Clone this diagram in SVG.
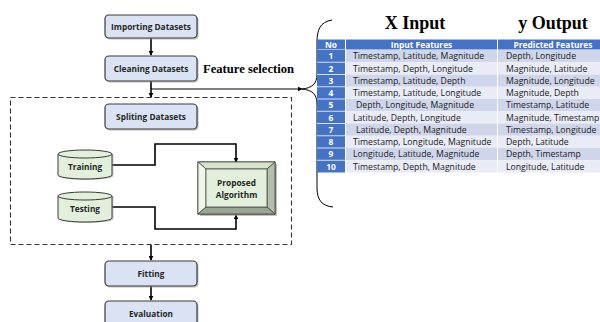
<svg xmlns="http://www.w3.org/2000/svg" width="600" height="322" viewBox="0 0 600 322">
<defs>
<marker id="ah" viewBox="0 0 8 8" refX="7" refY="4" markerWidth="5" markerHeight="5" orient="auto" markerUnits="userSpaceOnUse">
<path d="M0,0 L8,4 L0,8 z" fill="#000"/>
</marker>
<style>
.box{fill:#dae3f3;stroke:#3a3a3a;stroke-width:1.2}
.shadow{fill:#9a9a9a;opacity:0.6}
.lbl{font-family:"Open Sans","Liberation Sans",sans-serif;font-weight:bold;font-size:8.3px;fill:#262626;text-anchor:middle}
.cyl{fill:#e2efda;stroke:#3a3a3a;stroke-width:1}
.conn{fill:none;stroke:#000;stroke-width:1.6}
.thin{fill:none;stroke:#000;stroke-width:1}
.title{font-family:"Liberation Serif","Times New Roman",serif;font-weight:bold;fill:#000}
.hd{font-family:"Open Sans","Liberation Sans",sans-serif;font-weight:bold;font-size:8.4px;fill:#fff;text-anchor:middle}
.cell{font-family:"Open Sans","Liberation Sans",sans-serif;font-size:8.7px;fill:#1a1a1a}
.num{font-family:"Open Sans","Liberation Sans",sans-serif;font-weight:bold;font-size:8.4px;fill:#fff;text-anchor:middle}
.odd{fill:#cfd5ea}
.even{fill:#e9ebf5}
.blue{fill:#4472c4}
</style>
</defs>
<rect width="600" height="322" fill="#fff"/>

<!-- dashed container -->
<rect id="split-group" x="10.5" y="97.5" width="281" height="147" fill="none" stroke="#333" stroke-width="1.1" stroke-dasharray="5,3"/>

<g id="connectors">
<line class="conn" x1="151" y1="38" x2="151" y2="55" marker-end="url(#ah)"/>
<line class="conn" x1="151" y1="81" x2="151" y2="97" marker-end="url(#ah)"/>
<line class="thin" x1="151" y1="89" x2="302" y2="89" marker-end="url(#ah)"/>
<polyline class="conn" points="112,165 155,165 155,144 236,144 236,162" marker-end="url(#ah)"/>
<polyline class="conn" points="112,207 155,207 155,229 236,229 236,215" marker-end="url(#ah)"/>
<line class="conn" x1="151" y1="245" x2="151" y2="260" marker-end="url(#ah)"/>
<line class="conn" x1="151" y1="286" x2="151" y2="300" marker-end="url(#ah)"/>
<path class="thin" d="M332,20 C320,22 317,30 317,42 L317,74 C317,84 312,88 302,89 C312,90 317,94 317,104 L317,188 C317,200 322,206 333,207"/>
</g>

<g id="importing">
<rect class="shadow" x="106.5" y="16.5" width="92" height="23" rx="4"/>
<rect class="box" x="105" y="15" width="92" height="23" rx="4"/>
<text class="lbl" x="151" y="29.5">Importing Datasets</text>
</g>
<g id="cleaning">
<rect class="shadow" x="106.5" y="57.5" width="92" height="25" rx="4"/>
<rect class="box" x="105" y="56" width="92" height="25" rx="4"/>
<text class="lbl" x="151" y="71.5">Cleaning Datasets</text>
</g>
<text id="feature-selection" class="title" x="203" y="73" font-size="12.6">Feature selection</text>

<g id="spliting">
<rect class="shadow" x="106.5" y="105.5" width="92" height="25" rx="4"/>
<rect class="box" x="105" y="104" width="92" height="25" rx="4"/>
<text class="lbl" x="151" y="119.5">Spliting Datasets</text>
</g>

<g id="training">
<path d="M59.5,154 L59.5,176 A27,4 0 0 0 113.5,176 L113.5,154 z" fill="#9a9a9a" opacity="0.5"/>
<path class="cyl" d="M58,154 L58,175 A27,4 0 0 0 112,175 L112,154"/>
<ellipse class="cyl" cx="85" cy="154" rx="27" ry="4"/>
<text class="lbl" x="85" y="170">Training</text>
</g>
<g id="testing">
<path d="M59.5,196 L59.5,219 A27,4 0 0 0 113.5,219 L113.5,196 z" fill="#9a9a9a" opacity="0.5"/>
<path class="cyl" d="M58,196 L58,218 A27,4 0 0 0 112,218 L112,196"/>
<ellipse class="cyl" cx="85" cy="196" rx="27" ry="4"/>
<text class="lbl" x="85" y="212">Testing</text>
</g>

<g id="proposed">
<rect x="200" y="164" width="77" height="52" fill="#9a9a9a" opacity="0.6"/>
<rect x="198" y="162" width="77" height="52" fill="#e2efda" stroke="#3a3a3a" stroke-width="1"/>
<polygon points="198,162 275,162 267,169 206,169" fill="#d6e4cc" stroke="#3a3a3a" stroke-width="0.7"/>
<polygon points="198,162 206,169 206,207 198,214" fill="#eef5e9" stroke="#3a3a3a" stroke-width="0.7"/>
<polygon points="275,162 275,214 267,207 267,169" fill="#b3bfaa" stroke="#3a3a3a" stroke-width="0.7"/>
<polygon points="198,214 206,207 267,207 275,214" fill="#9aa592" stroke="#3a3a3a" stroke-width="0.7"/>
<rect x="206" y="169" width="61" height="38" fill="#e2efda" stroke="#3a3a3a" stroke-width="0.7"/>
<text class="lbl" x="236.5" y="185.5">Proposed</text>
<text class="lbl" x="236.5" y="197.5">Algorithm</text>
</g>

<g id="fitting">
<rect class="shadow" x="106.5" y="262.5" width="92" height="25" rx="4"/>
<rect class="box" x="105" y="261" width="92" height="25" rx="4"/>
<text class="lbl" x="151" y="276.5">Fitting</text>
</g>
<g id="evaluation">
<rect class="shadow" x="106.5" y="302.5" width="92" height="25" rx="4"/>
<rect class="box" x="105" y="301" width="92" height="25" rx="4"/>
<text class="lbl" x="151" y="316.5">Evaluation</text>
</g>

<g id="table">
<text class="title" x="415" y="29" font-size="18" text-anchor="middle">X Input</text>
<text class="title" x="553" y="29" font-size="18" text-anchor="middle">y Output</text>
<rect class="blue" x="317" y="39.5" width="28" height="10"/>
<rect class="blue" x="346" y="39.5" width="151" height="10"/>
<rect class="blue" x="498" y="39.5" width="102" height="10"/>
<text class="hd" x="331" y="47.6">No</text>
<text class="hd" x="421.5" y="47.6">Input Features</text>
<text class="hd" x="553" y="47.6">Predicted Features</text>
<g>
<rect class="blue" x="317" y="50" width="28" height="122.5"/>
<rect class="odd" x="346" y="50" width="151" height="12.25"/><rect class="odd" x="498" y="50" width="102" height="12.25"/>
<rect class="even" x="346" y="62.25" width="151" height="12.25"/><rect class="even" x="498" y="62.25" width="102" height="12.25"/>
<rect class="odd" x="346" y="74.5" width="151" height="12.25"/><rect class="odd" x="498" y="74.5" width="102" height="12.25"/>
<rect class="even" x="346" y="86.75" width="151" height="12.25"/><rect class="even" x="498" y="86.75" width="102" height="12.25"/>
<rect class="odd" x="346" y="99" width="151" height="12.25"/><rect class="odd" x="498" y="99" width="102" height="12.25"/>
<rect class="even" x="346" y="111.25" width="151" height="12.25"/><rect class="even" x="498" y="111.25" width="102" height="12.25"/>
<rect class="odd" x="346" y="123.5" width="151" height="12.25"/><rect class="odd" x="498" y="123.5" width="102" height="12.25"/>
<rect class="even" x="346" y="135.75" width="151" height="12.25"/><rect class="even" x="498" y="135.75" width="102" height="12.25"/>
<rect class="odd" x="346" y="148" width="151" height="12.25"/><rect class="odd" x="498" y="148" width="102" height="12.25"/>
<rect class="even" x="346" y="160.25" width="151" height="12.25"/><rect class="even" x="498" y="160.25" width="102" height="12.25"/>
<g stroke="#fff" stroke-width="0.8">
<line x1="317" y1="62.25" x2="345" y2="62.25"/><line x1="317" y1="74.5" x2="345" y2="74.5"/><line x1="317" y1="86.75" x2="345" y2="86.75"/><line x1="317" y1="99" x2="345" y2="99"/><line x1="317" y1="111.25" x2="345" y2="111.25"/><line x1="317" y1="123.5" x2="345" y2="123.5"/><line x1="317" y1="135.75" x2="345" y2="135.75"/><line x1="317" y1="148" x2="345" y2="148"/><line x1="317" y1="160.25" x2="345" y2="160.25"/>
</g>
</g>
<text class="num" x="331" y="59.3">1</text><text class="cell" x="353" y="59.3">Timestamp, Latitude, Magnitude</text><text class="cell" x="506" y="59.3">Depth, Longitude</text>
<text class="num" x="331" y="71.6">2</text><text class="cell" x="353" y="71.6">Timestamp, Depth, Longitude</text><text class="cell" x="506" y="71.6">Magnitude, Latitude</text>
<text class="num" x="331" y="83.8">3</text><text class="cell" x="353" y="83.8">Timestamp, Latitude, Depth</text><text class="cell" x="506" y="83.8">Magnitude, Longitude</text>
<text class="num" x="331" y="96.1">4</text><text class="cell" x="353" y="96.1">Timestamp, Latitude, Longitude</text><text class="cell" x="506" y="96.1">Magnitude, Depth</text>
<text class="num" x="331" y="108.3">5</text><text class="cell" x="356" y="108.3">Depth, Longitude, Magnitude</text><text class="cell" x="506" y="108.3">Timestamp, Latitude</text>
<text class="num" x="331" y="120.6">6</text><text class="cell" x="353" y="120.6">Latitude, Depth, Longitude</text><text class="cell" x="506" y="120.6">Magnitude, Timestamp</text>
<text class="num" x="331" y="132.8">7</text><text class="cell" x="356" y="132.8">Latitude, Depth, Magnitude</text><text class="cell" x="506" y="132.8">Timestamp, Longitude</text>
<text class="num" x="331" y="145.1">8</text><text class="cell" x="353" y="145.1">Timestamp, Longitude, Magnitude</text><text class="cell" x="506" y="145.1">Depth, Latitude</text>
<text class="num" x="331" y="157.3">9</text><text class="cell" x="353" y="157.3">Longitude, Latitude, Magnitude</text><text class="cell" x="506" y="157.3">Depth, Timestamp</text>
<text class="num" x="331" y="169.6">10</text><text class="cell" x="353" y="169.6">Timestamp, Depth, Magnitude</text><text class="cell" x="506" y="169.6">Longitude, Latitude</text>
</g>
</svg>
